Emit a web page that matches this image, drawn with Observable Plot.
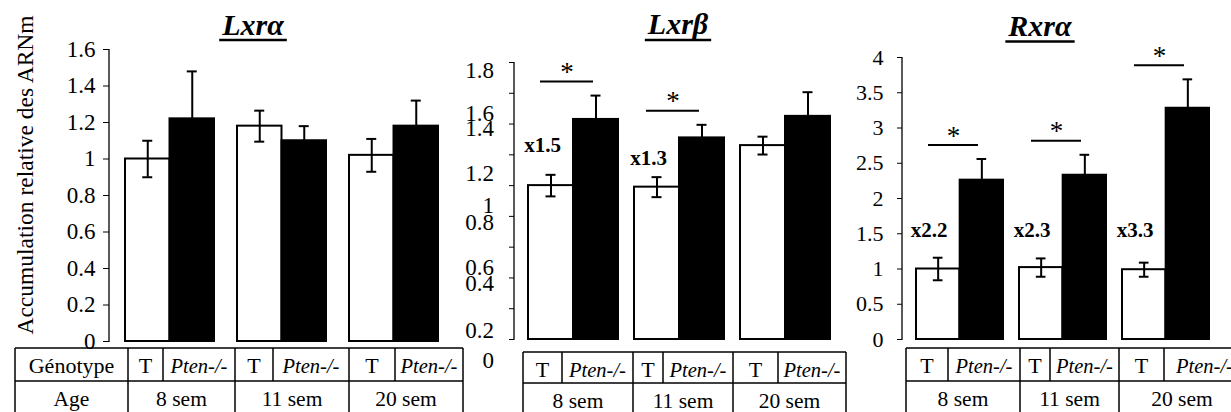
<!DOCTYPE html>
<html><head><meta charset="utf-8">
<script src="https://cdn.jsdelivr.net/npm/d3@7"></script>
<script src="https://cdn.jsdelivr.net/npm/@observablehq/plot@0.6"></script>
<style>
html,body{margin:0;padding:0;background:#fff;}
#wrap{position:relative;width:1231px;height:412px;overflow:hidden;font-family:"Liberation Serif","Times New Roman",Tinos,"DejaVu Serif",serif;color:#000;}
#wrap svg{position:absolute;top:0;}
#wrap svg text{font-family:"Liberation Serif","Times New Roman",Tinos,"DejaVu Serif",serif;}
</style></head><body><div id="wrap"></div>
<script>
// ---------- data ----------
const ages = ["8 sem", "11 sem", "20 sem"];
const genotypes = ["T", "Pten-/-"];
const rowLabels = ["Génotype", "Age"];
const yTitle = "Accumulation relative des ARNm";

const lxraTitle = "Lxrα";
const lxraT = [1.00, 1.18, 1.02];
const lxraTErr = [0.10, 0.085, 0.09];
const lxraKO = [1.22, 1.10, 1.18];
const lxraKOErr = [0.26, 0.08, 0.14];
const lxraTicks = [0, 0.2, 0.4, 0.6, 0.8, 1, 1.2, 1.4, 1.6];
const lxraTickLabels = ["0", "0.2", "0.4", "0.6", "0.8", "1", "1.2", "1.4", "1.6"];

const lxrbTitle = "Lxrβ";
const lxrbT = [1.00, 0.99, 1.26];
const lxrbTErr = [0.07, 0.065, 0.058];
const lxrbKO = [1.43, 1.31, 1.45];
const lxrbKOErr = [0.155, 0.085, 0.157];
const lxrbTicks = [0, 0.2, 0.4, 0.6, 0.8, 1, 1.2, 1.4, 1.6, 1.8];
const lxrbTickLabels = ["0", "0.2", "0.4", "0.6", "0.8", "1", "1.2", "1.4", "1.6", "1.8"];
// where each (displaced) tick label sits in the original figure, in axis units
const lxrbTickLabelAt = [-0.136, 0.058, 0.364, 0.468, 0.760, 0.871, 1.079, 1.371, 1.468, 1.748];
const lxrbStars = [true, true, false];
const lxrbFold = ["x1.5", "x1.3", null];
const lxrbFoldAt = [1.26, 1.18, null];

const rxraTitle = "Rxrα";
const rxraT = [1.00, 1.02, 0.99];
const rxraTErr = [0.16, 0.13, 0.10];
const rxraKO = [2.26, 2.33, 3.28];
const rxraKOErr = [0.30, 0.29, 0.41];
const rxraTicks = [0, 0.5, 1, 1.5, 2, 2.5, 3, 3.5, 4];
const rxraTickLabels = ["0", "0.5", "1", "1.5", "2", "2.5", "3", "3.5", "4"];
const rxraStars = [true, true, true];
const rxraFold = ["x2.2", "x2.3", "x3.3"];
const rxraFoldAt = [1.55, 1.55, 1.55];

// ---------- layout ----------
const FONT = '"Liberation Serif","Times New Roman",Tinos,"DejaVu Serif",serif';
const wrapEl = document.getElementById("wrap");

function makePanel(c) {
  const L = c.layout;
  const rows = ages.map((age, i) => ({
    age, t: c.T[i], te: c.TErr[i], k: c.KO[i], ke: c.KOErr[i],
    star: c.stars ? c.stars[i] : false,
    fold: c.fold ? c.fold[i] : null,
    foldAt: c.foldAt ? c.foldAt[i] : null
  }));
  const band = d3.scaleBand().domain(ages).range([L.ml, L.width - L.mr])
    .paddingInner(L.pi).paddingOuter(L.po);
  const bw = band.bandwidth(), half = bw / 2, q = bw / 4, cap = 5;
  const line = {stroke: "black", strokeWidth: 2};
  const marks = [
    Plot.barY(rows, {x: "age", y: "t", fill: "white", stroke: "black", strokeWidth: 2, insetRight: half}),
    Plot.barY(rows, {x: "age", y: "k", fill: "black", stroke: "black", strokeWidth: 2, insetLeft: half}),
    Plot.ruleX(rows, {x: "age", y1: d => d.t - d.te, y2: d => d.t + d.te, dx: -q, ...line}),
    Plot.tickY(rows, {x: "age", y: d => d.t - d.te, dx: -q, insetLeft: half - cap, insetRight: half - cap, ...line}),
    Plot.tickY(rows, {x: "age", y: d => d.t + d.te, dx: -q, insetLeft: half - cap, insetRight: half - cap, ...line}),
    Plot.ruleX(rows, {x: "age", y1: "k", y2: d => d.k + d.ke, dx: q, ...line}),
    Plot.tickY(rows, {x: "age", y: d => d.k + d.ke, dx: q, insetLeft: half - cap, insetRight: half - cap, ...line}),
    Plot.tickY(rows.filter(d => d.star), {x: "age", y: d => d.k + d.ke, dy: -14, insetLeft: 12, insetRight: 25, ...line}),
    Plot.text(rows.filter(d => d.star), {x: "age", y: d => d.k + d.ke, text: () => "*", dy: -23, dx: -6.5, fontSize: 27, fill: "black"}),
    Plot.text(rows.filter(d => d.fold), {x: "age", y: "foldAt", text: "fold", dx: -31, fontSize: 21, fontWeight: "bold", fill: "black"})
  ];
  if (c.labelAt) {
    marks.push(Plot.axisY({ticks: c.ticks, tickFormat: () => "", tickSize: L.tickSize, label: null}));
    marks.push(Plot.text(c.tickLabels.map((s, i) => ({s, at: c.labelAt[i]})),
      {y: "at", text: "s", frameAnchor: "left", textAnchor: "end", dx: L.labelDx, fontSize: L.fs, fill: "black"}));
  } else {
    marks.push(Plot.axisY({ticks: c.ticks, tickFormat: d => c.tickLabels[c.ticks.indexOf(d)],
      tickSize: L.tickSize, tickPadding: L.tickPadding, fontSize: L.fs, label: null}));
  }
  const plot = Plot.plot({
    width: L.width, height: 412,
    marginLeft: L.ml, marginRight: L.mr, marginTop: L.mt, marginBottom: L.mb,
    x: {type: "band", domain: ages, paddingInner: L.pi, paddingOuter: L.po, axis: null},
    y: {domain: [0, c.yMax], label: null},
    style: {fontFamily: FONT, background: "transparent", overflow: "visible", color: "black"},
    marks
  });
  const ys = plot.scale("y");
  d3.select(plot).append("line")
    .attr("x1", L.ml).attr("x2", L.ml)
    .attr("y1", ys.apply(0) + 1).attr("y2", ys.apply(c.yMax))
    .attr("stroke", "black").attr("stroke-width", 1.3);
  plot.style.left = L.left + "px";
  wrapEl.appendChild(plot);
}

makePanel({T: lxraT, TErr: lxraTErr, KO: lxraKO, KOErr: lxraKOErr, yMax: 1.6,
  ticks: lxraTicks, tickLabels: lxraTickLabels,
  layout: {left: 0, width: 460, ml: 109, mr: 7, mt: 49, mb: 71, pi: 0.209, po: 0.133, tickSize: 6, tickPadding: 8, fs: 23}});
makePanel({T: lxrbT, TErr: lxrbTErr, KO: lxrbKO, KOErr: lxrbKOErr, yMax: 1.8,
  ticks: lxrbTicks, tickLabels: lxrbTickLabels, labelAt: lxrbTickLabelAt,
  stars: lxrbStars, fold: lxrbFold, foldAt: lxrbFoldAt,
  layout: {left: 410, width: 440, ml: 104, mr: 6, mt: 62, mb: 73, pi: 0.151, po: 0.132, tickSize: 5, labelDx: -20.5, fs: 23}});
makePanel({T: rxraT, TErr: rxraTErr, KO: rxraKO, KOErr: rxraKOErr, yMax: 4,
  ticks: rxraTicks, tickLabels: rxraTickLabels,
  stars: rxraStars, fold: rxraFold, foldAt: rxraFoldAt,
  layout: {left: 820, width: 411, ml: 82, mr: 9, mt: 57, mb: 73, pi: 0.159, po: 0.12, tickSize: 5, tickPadding: 14, fs: 22}});

// ---------- overlay: titles, y title, tables ----------
const ov = d3.select(wrapEl).append("svg").attr("width", 1231).attr("height", 412)
  .style("left", "0px").style("font-family", FONT).style("pointer-events", "none");

[[lxraTitle, 253, 35, 40], [lxrbTitle, 678, 34, 40], [rxraTitle, 1040, 36, 41.5]].forEach(([t, x, by, uy]) => {
  const tx = ov.append("text").attr("x", x).attr("y", by).attr("text-anchor", "middle")
    .attr("font-size", 30).attr("font-weight", "bold").attr("font-style", "italic").text(t);
  const len = tx.node().getComputedTextLength() + 6;
  ov.append("line").attr("x1", x - len / 2).attr("x2", x + len / 2).attr("y1", uy).attr("y2", uy)
    .attr("stroke", "black").attr("stroke-width", 2.5);
});

ov.append("text").attr("transform", "translate(33,175) rotate(-90)").attr("text-anchor", "middle")
  .attr("font-size", 23.5).text(yTitle);

function table(g1Edges, g2Edges, top, mid, withLabel) {
  const bot = 420;
  const sw = 1.5;
  const hl = (y, x1, x2) => ov.append("line").attr("x1", x1).attr("x2", x2).attr("y1", y).attr("y2", y).attr("stroke", "black").attr("stroke-width", sw);
  const vl = (x, y1, y2) => ov.append("line").attr("x1", x).attr("x2", x).attr("y1", y1).attr("y2", y2).attr("stroke", "black").attr("stroke-width", sw);
  const x0 = g1Edges[0], x1 = g1Edges[g1Edges.length - 1];
  hl(top, x0, x1); hl(mid, x0, x1); hl(bot, x0, x1);
  g1Edges.forEach(x => vl(x, top, mid));
  g2Edges.forEach(x => vl(x, mid, bot));
  const row1 = withLabel ? [rowLabels[0]] : [];
  ages.forEach(() => genotypes.forEach(g => row1.push(g)));
  const row2 = (withLabel ? [rowLabels[1]] : []).concat(ages);
  row1.forEach((s, i) => {
    ov.append("text").attr("x", (g1Edges[i] + g1Edges[i + 1]) / 2).attr("y", top + 25)
      .attr("text-anchor", "middle").attr("font-size", s === "T" || s === rowLabels[0] ? 22 : 20.5)
      .attr("font-style", s === genotypes[1] ? "italic" : "normal").text(s);
  });
  row2.forEach((s, i) => {
    ov.append("text").attr("x", (g2Edges[i] + g2Edges[i + 1]) / 2).attr("y", mid + 25)
      .attr("text-anchor", "middle").attr("font-size", 21.5).text(s);
  });
}
table([15, 128, 163, 235, 273, 349, 395, 463], [15, 128, 235, 349, 463], 348, 381, true);
table([523, 562, 633, 663, 733, 778, 846], [523, 633, 733, 846], 352, 383, false);
table([906, 948, 1020, 1050, 1119, 1164, 1245], [906, 1020, 1119, 1245], 348, 381, false);
</script></body></html>
